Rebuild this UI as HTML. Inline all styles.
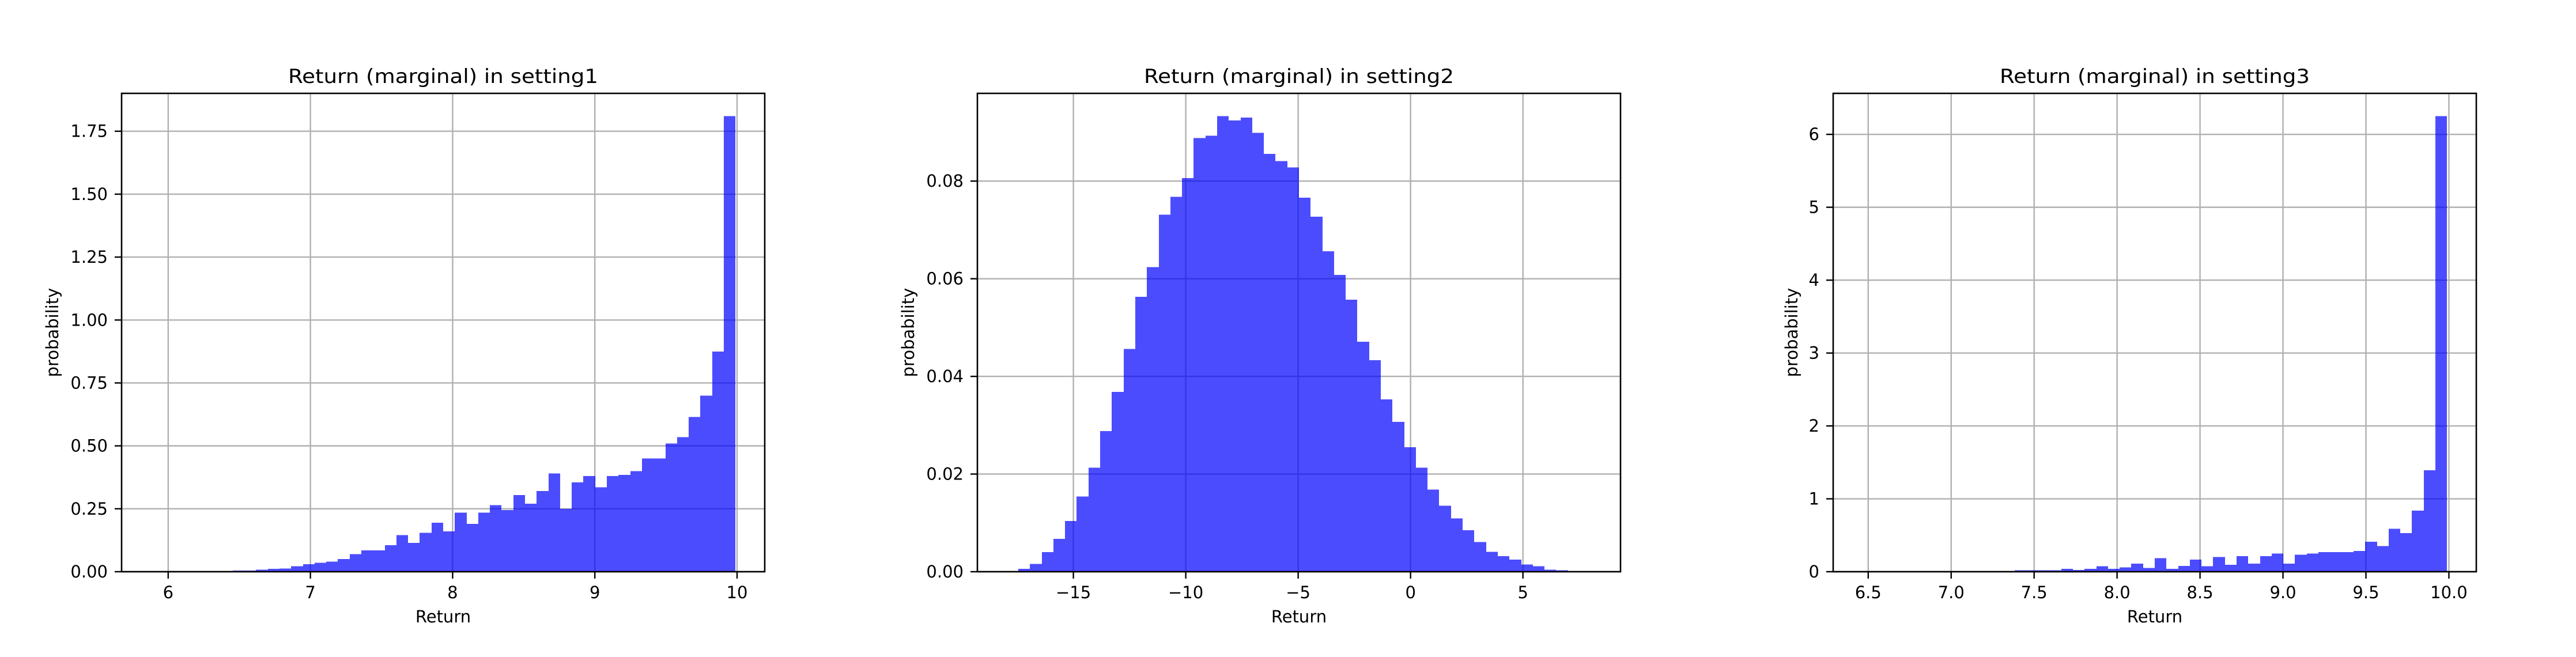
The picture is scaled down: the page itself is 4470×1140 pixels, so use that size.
<!DOCTYPE html>
<html><head><meta charset="utf-8"><style>
html,body{margin:0;padding:0;background:#fff;}
svg{display:block;}
text{font-family:"DejaVu Sans","Liberation Sans",sans-serif;fill:#000;}
</style></head><body>
<svg id="fig" width="4470" height="1140" viewBox="0 0 4470 1140" xmlns="http://www.w3.org/2000/svg"></svg>
<script>
// Panel 1 data (setting1)
const p1BinStart = 5.878;
const p1BinEnd = 9.989;
const p1Values = [0,0,0,0,0,0,0,0.005,0.005,0.008,0.012,0.013,0.022,0.03,0.035,0.04,0.05,0.07,0.085,0.085,0.105,0.145,0.115,0.155,0.195,0.16,0.235,0.19,0.235,0.265,0.245,0.305,0.27,0.32,0.39,0.25,0.355,0.38,0.335,0.38,0.385,0.40,0.45,0.45,0.51,0.535,0.615,0.70,0.875,1.81];
const p1XTicks = [6,7,8,9,10];
const p1XTickLabels = ["6","7","8","9","10"];
const p1YTicks = [0,0.25,0.5,0.75,1.0,1.25,1.5,1.75];
const p1YTickLabels = ["0.00","0.25","0.50","0.75","1.00","1.25","1.50","1.75"];

// Panel 2 data (setting2)
const p2BinStart = -17.97;
const p2BinEnd = 8.04;
const p2Values = [0,0.0006,0.0016,0.004,0.0067,0.0104,0.0154,0.0213,0.0288,0.0368,0.0456,0.0563,0.0624,0.0731,0.0768,0.0806,0.0888,0.0893,0.0933,0.0924,0.0930,0.0899,0.0856,0.0841,0.0828,0.0766,0.0727,0.0656,0.0608,0.0557,0.0471,0.0433,0.0353,0.0307,0.0255,0.0213,0.0168,0.0135,0.0109,0.0085,0.0061,0.0041,0.0032,0.0025,0.0015,0.0011,0.0004,0.0003,0.0001,0];
const p2XTicks = [-15,-10,-5,0,5];
const p2XTickLabels = ["\u221215","\u221210","\u22125","0","5"];
const p2YTicks = [0,0.02,0.04,0.06,0.08];
const p2YTickLabels = ["0.00","0.02","0.04","0.06","0.08"];

// Panel 3 data (setting3)
const p3BinStart = 6.465;
const p3BinEnd = 9.989;
const p3Values = [0,0,0,0,0,0,0,0,0,0,0,0,0,0.02,0.02,0.02,0.02,0.04,0.025,0.04,0.075,0.04,0.06,0.11,0.05,0.185,0.04,0.08,0.165,0.075,0.20,0.095,0.215,0.11,0.215,0.25,0.11,0.235,0.25,0.27,0.27,0.27,0.285,0.41,0.35,0.59,0.53,0.84,1.39,6.25];
const p3XTicks = [6.5,7.0,7.5,8.0,8.5,9.0,9.5,10.0];
const p3XTickLabels = ["6.5","7.0","7.5","8.0","8.5","9.0","9.5","10.0"];
const p3YTicks = [0,1,2,3,4,5,6];
const p3YTickLabels = ["0","1","2","3","4","5","6"];

const NS = "http://www.w3.org/2000/svg";
const fig = document.getElementById('fig');
function mk(tag, attrs, parent){
  const e = document.createElementNS(NS, tag);
  for (const k in attrs) e.setAttribute(k, attrs[k]);
  parent.appendChild(e);
  return e;
}
const TOP = 162, BOTTOM = 992, W = 1116;

function drawPanel(idx, left, title, binStart, binEnd, values, xt, xtl, yt, ytl){
  const g = mk('g', {}, fig);
  
  
  const right = left + W;
  const R = binEnd - binStart;
  const xmin = binStart - 0.05 * R, xmax = binEnd + 0.05 * R;
  const vmax = Math.max(...values);
  const ymax = vmax * 1.05;
  const X = v => left + (v - xmin) / (xmax - xmin) * W;
  const Y = v => BOTTOM - v / ymax * (BOTTOM - TOP);
  const grid = mk('g', {}, g);
  
  
  xt.forEach(v => {
    const l = mk('line', {x1:X(v), x2:X(v), y1:TOP, y2:BOTTOM, stroke:'#b0b0b0', 'stroke-width':2.4}, grid);
    
    
  });
  yt.forEach(v => {
    const l = mk('line', {x1:left, x2:right, y1:Y(v), y2:Y(v), stroke:'#b0b0b0', 'stroke-width':2.4}, grid);
    
    
  });
  const bw = R / values.length;
  const bars = mk('g', {'shape-rendering':'crispEdges'}, g);
  
  
  values.forEach((v, i) => {
    if (v <= 0) return;
    const x0 = Math.round(X(binStart + i * bw)), x1 = Math.round(X(binStart + (i + 1) * bw));
    const r = mk('rect', {x:x0, y:Y(v), width:x1 - x0, height:BOTTOM - Y(v), fill:'#0000ff', 'fill-opacity':0.7}, bars);
    
    
  });
  const sp = mk('rect', {x:left, y:TOP, width:W, height:BOTTOM - TOP, fill:'none', stroke:'#000', 'stroke-width':2.6}, g);
  
  
  xt.forEach((v, i) => {
    const t = mk('line', {x1:X(v), x2:X(v), y1:BOTTOM, y2:BOTTOM + 12, stroke:'#000', 'stroke-width':2.4}, g);
    
    
    const tx = mk('text', {x:X(v), y:1038, 'font-size':29, 'text-anchor':'middle'}, g);
    tx.textContent = xtl[i];
    
    
  });
  yt.forEach((v, i) => {
    const t = mk('line', {x1:left - 12, x2:left, y1:Y(v), y2:Y(v), stroke:'#000', 'stroke-width':2.4}, g);
    
    
    const tx = mk('text', {x:left - 24, y:Y(v) + 10, 'font-size':29, 'text-anchor':'end'}, g);
    tx.textContent = ytl[i];
    
    
  });
  const tt = mk('text', {x:left + W / 2, y:144, 'font-size':34, 'text-anchor':'middle', textLength:538, lengthAdjust:'spacingAndGlyphs'}, g);
  tt.textContent = title;
  
  
  const xl = mk('text', {x:left + W / 2, y:1080, 'font-size':29, 'text-anchor':'middle'}, g);
  xl.textContent = 'Return';
  
  
  let maxLen = Math.max(...ytl.map(s => s.length));
  const ylx = left - 24 - maxLen * 16 - 22;
  const yl = mk('text', {x:ylx, y:(TOP + BOTTOM) / 2, 'font-size':29, 'text-anchor':'middle', transform:'rotate(-90 ' + ylx + ' ' + ((TOP + BOTTOM) / 2) + ')'}, g);
  yl.textContent = 'probability';
  
  
}

drawPanel(1, 211, 'Return (marginal) in setting1', p1BinStart, p1BinEnd, p1Values, p1XTicks, p1XTickLabels, p1YTicks, p1YTickLabels);
drawPanel(2, 1696, 'Return (marginal) in setting2', p2BinStart, p2BinEnd, p2Values, p2XTicks, p2XTickLabels, p2YTicks, p2YTickLabels);
drawPanel(3, 3181, 'Return (marginal) in setting3', p3BinStart, p3BinEnd, p3Values, p3XTicks, p3XTickLabels, p3YTicks, p3YTickLabels);
</script>
</body></html>
